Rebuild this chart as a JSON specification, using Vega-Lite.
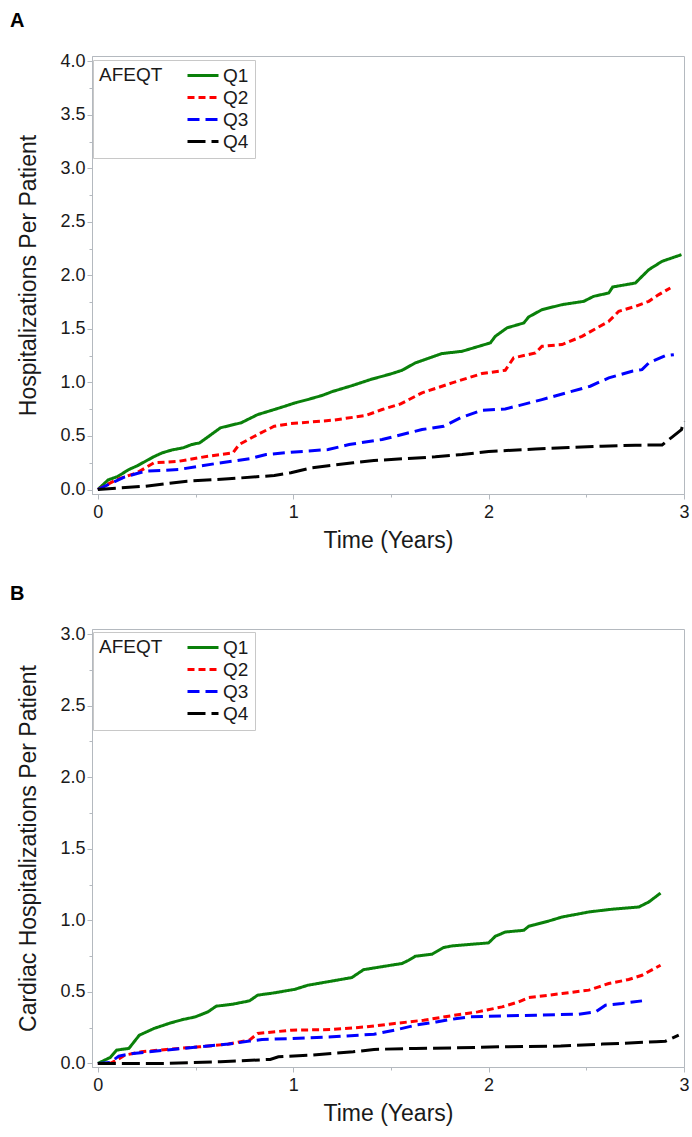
{
  "$schema": "https://vega.github.io/schema/vega-lite/v6.json",
  "padding": {"left": 9, "top": 10, "right": 5, "bottom": 5},
  "spacing": 30,
  "background": "white",
  "config": {
    "font": "Liberation Sans",
    "view": {"stroke": "#b4b9bf", "strokeWidth": 1},
    "axis": {
      "grid": false,
      "domainColor": "#b4b9bf",
      "tickColor": "#b4b9bf",
      "labelFont": "Liberation Sans",
      "labelFontSize": 18,
      "labelColor": "#1a1a1a",
      "titleFont": "Liberation Sans",
      "titleFontSize": 23,
      "titleFontWeight": "normal",
      "titleColor": "#1a1a1a",
      "labelOverlap": false,
      "labelFlush": false
    },
    "legend": {
      "orient": "none",
      "titleOrient": "left",
      "titleAnchor": "start",
      "titleBaseline": "top",
      "titleFont": "Liberation Sans",
      "titleFontSize": 19,
      "titleFontWeight": "normal",
      "titleColor": "#1a1a1a",
      "titlePadding": 23,
      "labelFont": "Liberation Sans",
      "labelFontSize": 19,
      "labelColor": "#1a1a1a",
      "labelOffset": 3,
      "symbolType": "stroke",
      "symbolSize": 961,
      "symbolStrokeWidth": 3,
      "clipHeight": 19,
      "rowPadding": 2,
      "padding": 6,
      "fillColor": "white",
      "strokeColor": "#c8c8c8"
    },
    "title": {"font": "Liberation Sans", "color": "#000000"}
  },
  "datasets": {
    "hosp": [
      {"g": "Q1", "t": 0, "v": 0}, {"g": "Q1", "t": 0.053, "v": 0.09}, {"g": "Q1", "t": 0.1, "v": 0.12}, {"g": "Q1", "t": 0.159, "v": 0.187}, {"g": "Q1", "t": 0.2, "v": 0.22}, {"g": "Q1", "t": 0.244, "v": 0.264}, {"g": "Q1", "t": 0.29, "v": 0.31}, {"g": "Q1", "t": 0.329, "v": 0.342}, {"g": "Q1", "t": 0.38, "v": 0.37}, {"g": "Q1", "t": 0.436, "v": 0.389}, {"g": "Q1", "t": 0.48, "v": 0.42}, {"g": "Q1", "t": 0.521, "v": 0.436}, {"g": "Q1", "t": 0.57, "v": 0.5}, {"g": "Q1", "t": 0.627, "v": 0.576}, {"g": "Q1", "t": 0.68, "v": 0.6}, {"g": "Q1", "t": 0.733, "v": 0.623}, {"g": "Q1", "t": 0.818, "v": 0.7}, {"g": "Q1", "t": 0.903, "v": 0.747}, {"g": "Q1", "t": 0.96, "v": 0.78}, {"g": "Q1", "t": 1.009, "v": 0.809}, {"g": "Q1", "t": 1.074, "v": 0.84}, {"g": "Q1", "t": 1.15, "v": 0.88}, {"g": "Q1", "t": 1.2, "v": 0.915}, {"g": "Q1", "t": 1.3, "v": 0.97}, {"g": "Q1", "t": 1.4, "v": 1.03}, {"g": "Q1", "t": 1.5, "v": 1.08}, {"g": "Q1", "t": 1.557, "v": 1.114}, {"g": "Q1", "t": 1.625, "v": 1.183}, {"g": "Q1", "t": 1.761, "v": 1.27}, {"g": "Q1", "t": 1.864, "v": 1.291}, {"g": "Q1", "t": 2.009, "v": 1.37}, {"g": "Q1", "t": 2.034, "v": 1.431}, {"g": "Q1", "t": 2.094, "v": 1.51}, {"g": "Q1", "t": 2.18, "v": 1.556}, {"g": "Q1", "t": 2.205, "v": 1.612}, {"g": "Q1", "t": 2.273, "v": 1.68}, {"g": "Q1", "t": 2.376, "v": 1.727}, {"g": "Q1", "t": 2.487, "v": 1.758}, {"g": "Q1", "t": 2.538, "v": 1.805}, {"g": "Q1", "t": 2.615, "v": 1.836}, {"g": "Q1", "t": 2.635, "v": 1.892}, {"g": "Q1", "t": 2.751, "v": 1.929}, {"g": "Q1", "t": 2.82, "v": 2.054}, {"g": "Q1", "t": 2.888, "v": 2.132}, {"g": "Q1", "t": 2.987, "v": 2.194},
      {"g": "Q2", "t": 0, "v": 0}, {"g": "Q2", "t": 0.096, "v": 0.093}, {"g": "Q2", "t": 0.2, "v": 0.156}, {"g": "Q2", "t": 0.287, "v": 0.249}, {"g": "Q2", "t": 0.414, "v": 0.264}, {"g": "Q2", "t": 0.563, "v": 0.311}, {"g": "Q2", "t": 0.691, "v": 0.342}, {"g": "Q2", "t": 0.723, "v": 0.42}, {"g": "Q2", "t": 0.818, "v": 0.514}, {"g": "Q2", "t": 0.903, "v": 0.591}, {"g": "Q2", "t": 0.988, "v": 0.616}, {"g": "Q2", "t": 1.2, "v": 0.647}, {"g": "Q2", "t": 1.37, "v": 0.691}, {"g": "Q2", "t": 1.455, "v": 0.747}, {"g": "Q2", "t": 1.55, "v": 0.8}, {"g": "Q2", "t": 1.659, "v": 0.903}, {"g": "Q2", "t": 1.813, "v": 0.996}, {"g": "Q2", "t": 1.966, "v": 1.083}, {"g": "Q2", "t": 2.085, "v": 1.114}, {"g": "Q2", "t": 2.128, "v": 1.23}, {"g": "Q2", "t": 2.24, "v": 1.276}, {"g": "Q2", "t": 2.273, "v": 1.338}, {"g": "Q2", "t": 2.376, "v": 1.354}, {"g": "Q2", "t": 2.478, "v": 1.431}, {"g": "Q2", "t": 2.615, "v": 1.571}, {"g": "Q2", "t": 2.666, "v": 1.665}, {"g": "Q2", "t": 2.751, "v": 1.711}, {"g": "Q2", "t": 2.82, "v": 1.758}, {"g": "Q2", "t": 2.871, "v": 1.821}, {"g": "Q2", "t": 2.93, "v": 1.883},
      {"g": "Q3", "t": 0, "v": 0}, {"g": "Q3", "t": 0.138, "v": 0.118}, {"g": "Q3", "t": 0.244, "v": 0.171}, {"g": "Q3", "t": 0.414, "v": 0.187}, {"g": "Q3", "t": 0.606, "v": 0.243}, {"g": "Q3", "t": 0.776, "v": 0.287}, {"g": "Q3", "t": 0.861, "v": 0.327}, {"g": "Q3", "t": 0.988, "v": 0.348}, {"g": "Q3", "t": 1.179, "v": 0.373}, {"g": "Q3", "t": 1.286, "v": 0.42}, {"g": "Q3", "t": 1.455, "v": 0.467}, {"g": "Q3", "t": 1.582, "v": 0.525}, {"g": "Q3", "t": 1.659, "v": 0.56}, {"g": "Q3", "t": 1.77, "v": 0.591}, {"g": "Q3", "t": 1.855, "v": 0.669}, {"g": "Q3", "t": 1.966, "v": 0.74}, {"g": "Q3", "t": 2.085, "v": 0.753}, {"g": "Q3", "t": 2.154, "v": 0.784}, {"g": "Q3", "t": 2.273, "v": 0.84}, {"g": "Q3", "t": 2.41, "v": 0.909}, {"g": "Q3", "t": 2.52, "v": 0.965}, {"g": "Q3", "t": 2.615, "v": 1.043}, {"g": "Q3", "t": 2.734, "v": 1.105}, {"g": "Q3", "t": 2.785, "v": 1.12}, {"g": "Q3", "t": 2.82, "v": 1.183}, {"g": "Q3", "t": 2.905, "v": 1.251}, {"g": "Q3", "t": 2.948, "v": 1.26},
      {"g": "Q4", "t": 0, "v": 0}, {"g": "Q4", "t": 0.244, "v": 0.031}, {"g": "Q4", "t": 0.457, "v": 0.078}, {"g": "Q4", "t": 0.669, "v": 0.1}, {"g": "Q4", "t": 0.903, "v": 0.131}, {"g": "Q4", "t": 0.988, "v": 0.156}, {"g": "Q4", "t": 1.094, "v": 0.203}, {"g": "Q4", "t": 1.307, "v": 0.249}, {"g": "Q4", "t": 1.413, "v": 0.271}, {"g": "Q4", "t": 1.557, "v": 0.287}, {"g": "Q4", "t": 1.727, "v": 0.305}, {"g": "Q4", "t": 1.864, "v": 0.327}, {"g": "Q4", "t": 2.0, "v": 0.356}, {"g": "Q4", "t": 2.24, "v": 0.378}, {"g": "Q4", "t": 2.41, "v": 0.393}, {"g": "Q4", "t": 2.58, "v": 0.404}, {"g": "Q4", "t": 2.751, "v": 0.414}, {"g": "Q4", "t": 2.888, "v": 0.416}, {"g": "Q4", "t": 2.939, "v": 0.49}, {"g": "Q4", "t": 2.987, "v": 0.56}, {"g": "Q4", "t": 2.999, "v": 0.638}
    ],
    "cardiac": [
      {"g": "Q1", "t": 0, "v": 0}, {"g": "Q1", "t": 0.064, "v": 0.042}, {"g": "Q1", "t": 0.096, "v": 0.093}, {"g": "Q1", "t": 0.159, "v": 0.105}, {"g": "Q1", "t": 0.212, "v": 0.197}, {"g": "Q1", "t": 0.287, "v": 0.244}, {"g": "Q1", "t": 0.372, "v": 0.283}, {"g": "Q1", "t": 0.436, "v": 0.307}, {"g": "Q1", "t": 0.499, "v": 0.325}, {"g": "Q1", "t": 0.563, "v": 0.36}, {"g": "Q1", "t": 0.606, "v": 0.4}, {"g": "Q1", "t": 0.691, "v": 0.414}, {"g": "Q1", "t": 0.776, "v": 0.437}, {"g": "Q1", "t": 0.818, "v": 0.477}, {"g": "Q1", "t": 0.903, "v": 0.493}, {"g": "Q1", "t": 1.009, "v": 0.518}, {"g": "Q1", "t": 1.074, "v": 0.546}, {"g": "Q1", "t": 1.2, "v": 0.576}, {"g": "Q1", "t": 1.3, "v": 0.6}, {"g": "Q1", "t": 1.36, "v": 0.655}, {"g": "Q1", "t": 1.5, "v": 0.686}, {"g": "Q1", "t": 1.557, "v": 0.698}, {"g": "Q1", "t": 1.591, "v": 0.721}, {"g": "Q1", "t": 1.625, "v": 0.749}, {"g": "Q1", "t": 1.71, "v": 0.763}, {"g": "Q1", "t": 1.77, "v": 0.81}, {"g": "Q1", "t": 1.813, "v": 0.821}, {"g": "Q1", "t": 2.0, "v": 0.842}, {"g": "Q1", "t": 2.034, "v": 0.888}, {"g": "Q1", "t": 2.085, "v": 0.918}, {"g": "Q1", "t": 2.18, "v": 0.93}, {"g": "Q1", "t": 2.205, "v": 0.958}, {"g": "Q1", "t": 2.308, "v": 0.995}, {"g": "Q1", "t": 2.376, "v": 1.023}, {"g": "Q1", "t": 2.513, "v": 1.058}, {"g": "Q1", "t": 2.615, "v": 1.075}, {"g": "Q1", "t": 2.769, "v": 1.093}, {"g": "Q1", "t": 2.82, "v": 1.128}, {"g": "Q1", "t": 2.88, "v": 1.19},
      {"g": "Q2", "t": 0, "v": 0}, {"g": "Q2", "t": 0.064, "v": 0}, {"g": "Q2", "t": 0.096, "v": 0.023}, {"g": "Q2", "t": 0.138, "v": 0.058}, {"g": "Q2", "t": 0.223, "v": 0.081}, {"g": "Q2", "t": 0.351, "v": 0.098}, {"g": "Q2", "t": 0.521, "v": 0.116}, {"g": "Q2", "t": 0.669, "v": 0.135}, {"g": "Q2", "t": 0.776, "v": 0.163}, {"g": "Q2", "t": 0.818, "v": 0.209}, {"g": "Q2", "t": 0.988, "v": 0.232}, {"g": "Q2", "t": 1.2, "v": 0.237}, {"g": "Q2", "t": 1.37, "v": 0.255}, {"g": "Q2", "t": 1.519, "v": 0.279}, {"g": "Q2", "t": 1.668, "v": 0.302}, {"g": "Q2", "t": 1.795, "v": 0.33}, {"g": "Q2", "t": 1.944, "v": 0.36}, {"g": "Q2", "t": 2.069, "v": 0.395}, {"g": "Q2", "t": 2.154, "v": 0.43}, {"g": "Q2", "t": 2.205, "v": 0.46}, {"g": "Q2", "t": 2.376, "v": 0.488}, {"g": "Q2", "t": 2.513, "v": 0.512}, {"g": "Q2", "t": 2.564, "v": 0.535}, {"g": "Q2", "t": 2.615, "v": 0.558}, {"g": "Q2", "t": 2.717, "v": 0.586}, {"g": "Q2", "t": 2.785, "v": 0.616}, {"g": "Q2", "t": 2.88, "v": 0.686},
      {"g": "Q3", "t": 0, "v": 0}, {"g": "Q3", "t": 0.064, "v": 0.007}, {"g": "Q3", "t": 0.107, "v": 0.051}, {"g": "Q3", "t": 0.181, "v": 0.07}, {"g": "Q3", "t": 0.351, "v": 0.093}, {"g": "Q3", "t": 0.521, "v": 0.116}, {"g": "Q3", "t": 0.669, "v": 0.135}, {"g": "Q3", "t": 0.776, "v": 0.156}, {"g": "Q3", "t": 0.84, "v": 0.167}, {"g": "Q3", "t": 0.988, "v": 0.174}, {"g": "Q3", "t": 1.2, "v": 0.186}, {"g": "Q3", "t": 1.413, "v": 0.204}, {"g": "Q3", "t": 1.519, "v": 0.232}, {"g": "Q3", "t": 1.625, "v": 0.267}, {"g": "Q3", "t": 1.732, "v": 0.29}, {"g": "Q3", "t": 1.838, "v": 0.314}, {"g": "Q3", "t": 1.898, "v": 0.325}, {"g": "Q3", "t": 2.069, "v": 0.332}, {"g": "Q3", "t": 2.24, "v": 0.337}, {"g": "Q3", "t": 2.461, "v": 0.344}, {"g": "Q3", "t": 2.547, "v": 0.36}, {"g": "Q3", "t": 2.598, "v": 0.407}, {"g": "Q3", "t": 2.683, "v": 0.419}, {"g": "Q3", "t": 2.785, "v": 0.437},
      {"g": "Q4", "t": 0, "v": 0}, {"g": "Q4", "t": 0.351, "v": 0}, {"g": "Q4", "t": 0.627, "v": 0.012}, {"g": "Q4", "t": 0.882, "v": 0.028}, {"g": "Q4", "t": 0.924, "v": 0.046}, {"g": "Q4", "t": 1.094, "v": 0.058}, {"g": "Q4", "t": 1.307, "v": 0.081}, {"g": "Q4", "t": 1.413, "v": 0.098}, {"g": "Q4", "t": 1.625, "v": 0.105}, {"g": "Q4", "t": 1.838, "v": 0.109}, {"g": "Q4", "t": 2.05, "v": 0.116}, {"g": "Q4", "t": 2.369, "v": 0.121}, {"g": "Q4", "t": 2.582, "v": 0.135}, {"g": "Q4", "t": 2.858, "v": 0.151}, {"g": "Q4", "t": 2.905, "v": 0.155}, {"g": "Q4", "t": 2.973, "v": 0.198}
    ]
  },
  "vconcat": [
    {
      "width": 592,
      "height": 438,
      "title": {"text": "A", "anchor": "start", "frame": "group", "dx": -82, "fontSize": 20, "fontWeight": "bold", "baseline": "alphabetic", "offset": 5},
      "data": {"name": "hosp"},
      "mark": {"type": "line", "strokeWidth": 3, "strokeCap": "butt"},
      "encoding": {
        "x": {"field": "t", "type": "quantitative",
          "scale": {"domain": [-0.03, 3.0], "nice": false, "zero": false},
          "axis": {"title": "Time (Years)", "values": [0, 0.5, 1, 1.5, 2, 2.5, 3],
            "labelExpr": "datum.value % 1 === 0 ? format(datum.value, 'd') : ''",
            "tickSize": {"condition": {"test": "datum.value % 1 !== 0", "value": 3}, "value": 5},
            "labelPadding": 4, "titlePadding": 8}},
        "y": {"field": "v", "type": "quantitative",
          "scale": {"domain": [-0.042, 4.05], "nice": false, "zero": false},
          "axis": {"title": "Hospitalizations Per Patient",
            "values": [0, 0.25, 0.5, 0.75, 1, 1.25, 1.5, 1.75, 2, 2.25, 2.5, 2.75, 3, 3.25, 3.5, 3.75, 4],
            "labelExpr": "datum.value % 0.5 === 0 ? format(datum.value, '.1f') : ''",
            "tickSize": {"condition": {"test": "datum.value % 0.5 !== 0", "value": 3}, "value": 5},
            "labelPadding": 2, "titlePadding": 19}},
        "color": {"field": "g", "type": "nominal", "title": "AFEQT",
          "scale": {"domain": ["Q1", "Q2", "Q3", "Q4"], "range": ["#0a800a", "#ff0000", "#0000ff", "#000000"]},
          "legend": {"legendX": 1, "legendY": 4}},
        "strokeDash": {"field": "g", "type": "nominal", "title": "AFEQT",
          "scale": {"domain": ["Q1", "Q2", "Q3", "Q4"], "range": [[1, 0], [7, 4], [12, 6], [18, 6]]},
          "legend": {"legendX": 1, "legendY": 4}}
      }
    },
    {
      "width": 592,
      "height": 438,
      "title": {"text": "B", "anchor": "start", "frame": "group", "dx": -82, "fontSize": 20, "fontWeight": "bold", "baseline": "alphabetic", "offset": 5},
      "data": {"name": "cardiac"},
      "mark": {"type": "line", "strokeWidth": 3, "strokeCap": "butt"},
      "encoding": {
        "x": {"field": "t", "type": "quantitative",
          "scale": {"domain": [-0.03, 3.0], "nice": false, "zero": false},
          "axis": {"title": "Time (Years)", "values": [0, 0.5, 1, 1.5, 2, 2.5, 3],
            "labelExpr": "datum.value % 1 === 0 ? format(datum.value, 'd') : ''",
            "tickSize": {"condition": {"test": "datum.value % 1 !== 0", "value": 3}, "value": 5},
            "labelPadding": 4, "titlePadding": 8}},
        "y": {"field": "v", "type": "quantitative",
          "scale": {"domain": [-0.025, 3.035], "nice": false, "zero": false},
          "axis": {"title": "Cardiac Hospitalizations Per Patient",
            "values": [0, 0.25, 0.5, 0.75, 1, 1.25, 1.5, 1.75, 2, 2.25, 2.5, 2.75, 3],
            "labelExpr": "datum.value % 0.5 === 0 ? format(datum.value, '.1f') : ''",
            "tickSize": {"condition": {"test": "datum.value % 0.5 !== 0", "value": 3}, "value": 5},
            "labelPadding": 2, "titlePadding": 19}},
        "color": {"field": "g", "type": "nominal", "title": "AFEQT",
          "scale": {"domain": ["Q1", "Q2", "Q3", "Q4"], "range": ["#0a800a", "#ff0000", "#0000ff", "#000000"]},
          "legend": {"legendX": 1, "legendY": 3}},
        "strokeDash": {"field": "g", "type": "nominal", "title": "AFEQT",
          "scale": {"domain": ["Q1", "Q2", "Q3", "Q4"], "range": [[1, 0], [7, 4], [12, 6], [18, 6]]},
          "legend": {"legendX": 1, "legendY": 3}}
      }
    }
  ],
  "resolve": {
    "scale": {"y": "independent", "color": "independent", "strokeDash": "independent"},
    "legend": {"color": "independent", "strokeDash": "independent"}
  }
}
